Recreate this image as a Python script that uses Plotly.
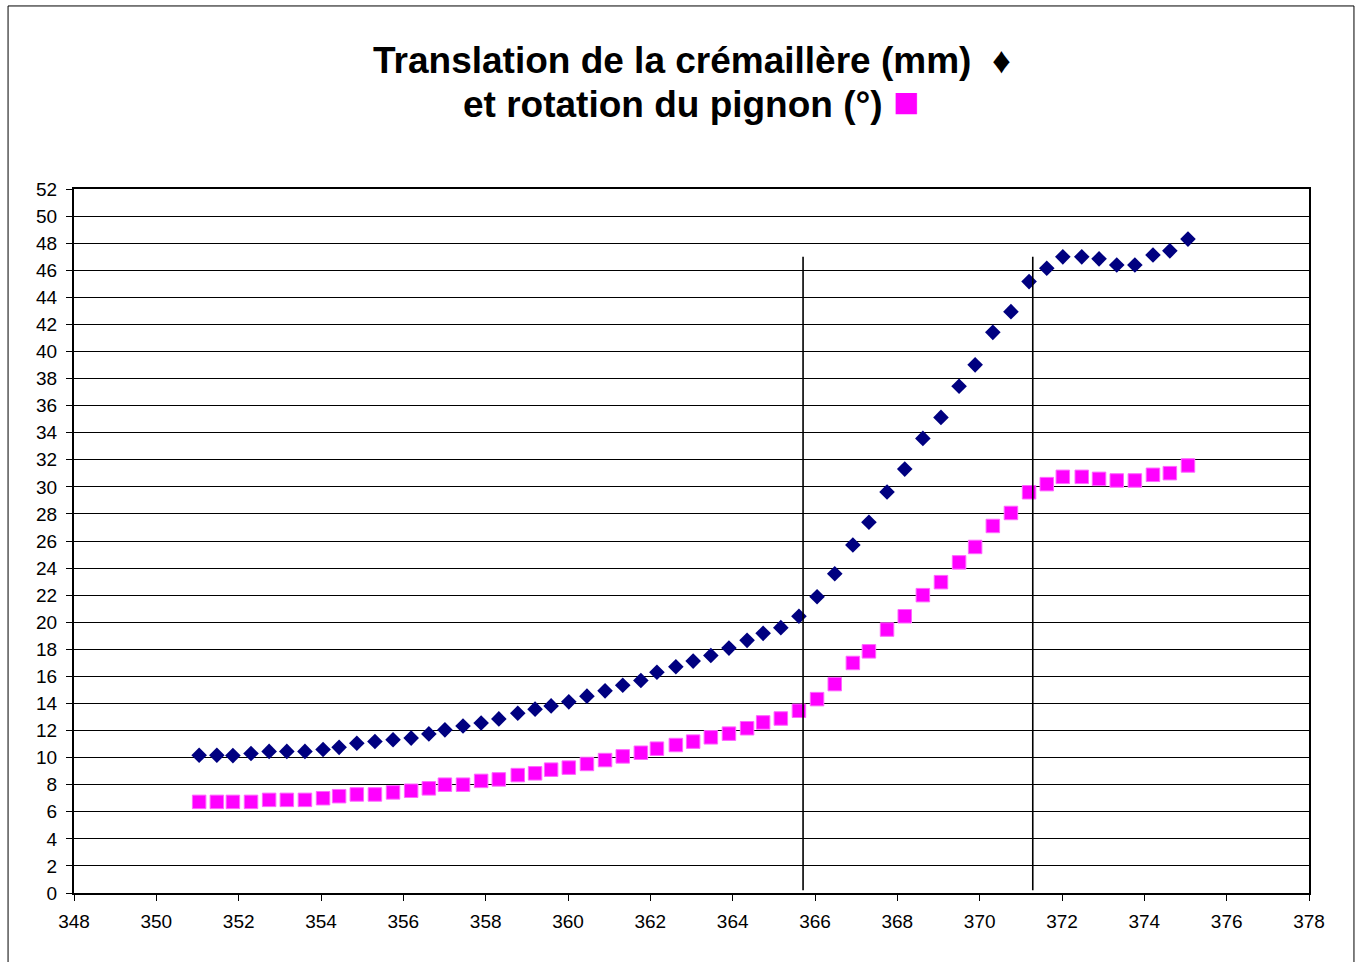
import plotly.graph_objects as go

# Position of the steering input (x) and the two measured responses
position = [
    351.04, 351.47, 351.86, 352.30, 352.74, 353.17, 353.61, 354.05, 354.44, 354.87,
    355.31, 355.75, 356.19, 356.62, 357.01, 357.45, 357.89, 358.32, 358.78, 359.20,
    359.59, 360.02, 360.46, 360.90, 361.33, 361.77, 362.16, 362.62, 363.04, 363.47,
    363.91, 364.35, 364.74, 365.17, 365.61, 366.05, 366.48, 366.92, 367.31, 367.75,
    368.18, 368.62, 369.06, 369.50, 369.89, 370.32, 370.76, 371.20, 371.63, 372.02,
    372.48, 372.90, 373.33, 373.77, 374.21, 374.62, 375.06,
]

# Rack translation (mm)
translation_mm = [
    10.18, 10.18, 10.15, 10.30, 10.46, 10.46, 10.46, 10.60, 10.76, 11.06,
    11.19, 11.32, 11.44, 11.75, 12.05, 12.33, 12.56, 12.86, 13.28, 13.58,
    13.82, 14.12, 14.54, 14.93, 15.35, 15.70, 16.30, 16.71, 17.13, 17.54,
    18.09, 18.66, 19.18, 19.60, 20.44, 21.88, 23.58, 25.70, 27.38, 29.62,
    31.31, 33.58, 35.13, 37.43, 39.01, 41.41, 42.94, 45.16, 46.15, 46.99,
    46.99, 46.84, 46.39, 46.39, 47.13, 47.43, 48.30,
]

# Pinion rotation (degrees)
rotation_deg = [
    6.73, 6.73, 6.73, 6.73, 6.88, 6.88, 6.88, 7.00, 7.15, 7.28,
    7.28, 7.43, 7.55, 7.73, 8.00, 8.00, 8.28, 8.39, 8.71, 8.84,
    9.11, 9.26, 9.53, 9.82, 10.09, 10.36, 10.66, 10.93, 11.18, 11.50,
    11.77, 12.17, 12.60, 12.89, 13.46, 14.32, 15.43, 16.99, 17.85, 19.46,
    20.44, 22.00, 22.96, 24.42, 25.56, 27.11, 28.07, 29.60, 30.20, 30.74,
    30.74, 30.59, 30.47, 30.47, 30.89, 31.01, 31.58,
]

# Limits of the steep zone marked by vertical lines
zone_limits = [365.71, 371.29]
zone_y = [0.2, 47.0]

FONT = "Liberation Sans, Arial, sans-serif"

fig = go.Figure()
fig.add_trace(go.Scatter(
    x=position, y=translation_mm, mode="markers",
    name="Translation de la crémaillère (mm)",
    marker=dict(symbol="diamond", size=12, color="#000080"),
))
fig.add_trace(go.Scatter(
    x=position, y=rotation_deg, mode="markers",
    name="Rotation du pignon (°)",
    marker=dict(symbol="square", size=13.5, color="#FF00FF",
                line=dict(width=1, color="#FF66FF")),
))

for xl in zone_limits:
    fig.add_shape(type="line", xref="x", yref="y",
                  x0=xl, x1=xl, y0=zone_y[0], y1=zone_y[1],
                  line=dict(color="black", width=1.6))

# Outer chart frame
fig.add_shape(type="rect", xref="paper", yref="paper",
              x0=-0.0534, x1=1.0364, y0=-0.12, y1=1.260,
              line=dict(color="black", width=1), layer="below")

# Two-line title, each line with its series symbol
fig.add_annotation(
    xref="paper", yref="paper", x=0.5, y=1.1832,
    xanchor="center", yanchor="middle", showarrow=False,
    text="<b>Translation de la crémaillère (mm)</b>  ♦",
    font=dict(family=FONT, size=37, color="black"),
)
fig.add_annotation(
    xref="paper", yref="paper", x=0.5, y=1.125,
    xanchor="center", yanchor="middle", showarrow=False,
    text="<b>et rotation du pignon (°)</b> "
         "<span style='color:#FF00FF;font-size:44px'>■</span>",
    font=dict(family=FONT, size=37, color="black"),
)

fig.update_layout(
    width=1362, height=962,
    margin=dict(l=74, r=53, t=189, b=69, pad=0),
    paper_bgcolor="white", plot_bgcolor="white",
    showlegend=False,
    font=dict(family=FONT, size=18, color="black"),
    xaxis=dict(
        range=[348, 378], dtick=2, tick0=348, showgrid=False, zeroline=False,
        showline=True, linecolor="black", linewidth=2, mirror=True,
        ticks="outside", ticklen=6, tickcolor="black", tickwidth=1,
        ticklabelstandoff=4,
        tickfont=dict(family=FONT, size=19),
    ),
    yaxis=dict(
        range=[0, 52], dtick=2, tick0=0, showgrid=True, gridcolor="black",
        gridwidth=1, zeroline=False,
        showline=True, linecolor="black", linewidth=2, mirror=True,
        ticks="outside", ticklen=6, tickcolor="black", tickwidth=1,
        ticklabelstandoff=5,
        tickfont=dict(family=FONT, size=19),
    ),
)

fig.write_html("out.html")
